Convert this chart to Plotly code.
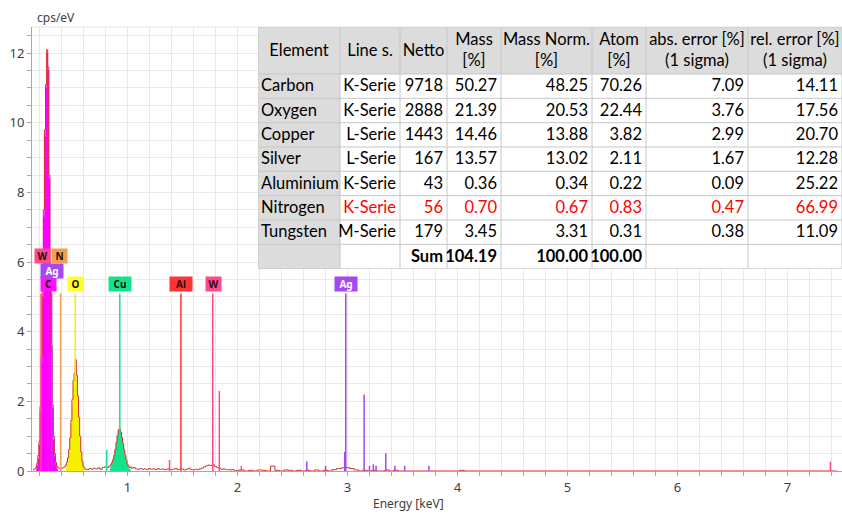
import plotly.graph_objects as go

# ---------------- EDX spectrum (cps/eV over keV) ----------------
spec_kev = [
    0.14, 0.15, 0.16, 0.17, 0.18, 0.19, 0.20, 0.21, 0.22, 0.23,
    0.24, 0.25, 0.26, 0.27, 0.28, 0.29, 0.30, 0.31, 0.32, 0.33,
    0.34, 0.35, 0.36, 0.37, 0.38, 0.39, 0.40, 0.41, 0.42, 0.43,
    0.44, 0.45, 0.46, 0.47, 0.48, 0.49, 0.50, 0.51, 0.52, 0.53,
    0.54, 0.55, 0.56, 0.57, 0.58, 0.59, 0.60, 0.61, 0.62, 0.64,
    0.66, 0.68, 0.70, 0.72, 0.74, 0.76, 0.78, 0.80, 0.82, 0.84,
    0.85, 0.86, 0.87, 0.88, 0.89, 0.90, 0.91, 0.92, 0.93, 0.94,
    0.95, 0.96, 0.97, 0.98, 0.99, 1.00, 1.01, 1.02, 1.03, 1.04,
    1.06, 1.08, 1.10, 1.12, 1.14, 1.16, 1.18, 1.20, 1.22, 1.24,
    1.26, 1.28, 1.30, 1.32, 1.34, 1.36, 1.38, 1.40, 1.42, 1.44,
    1.46, 1.48, 1.50, 1.52, 1.54, 1.56, 1.58, 1.60, 1.62, 1.64,
    1.66, 1.68, 1.70, 1.72, 1.74, 1.76, 1.78, 1.80, 1.82, 1.84,
    1.86, 1.88, 1.90, 1.92, 1.94, 1.96, 1.98, 2.00, 2.04, 2.08,
    2.12, 2.16, 2.20, 2.24, 2.28, 2.32, 2.36, 2.40, 2.44, 2.48,
    2.52, 2.56, 2.60, 2.64, 2.68, 2.72, 2.76, 2.80, 2.84, 2.88,
    2.92, 2.96, 3.00, 3.04, 3.08, 3.12, 3.16, 3.20, 3.24, 3.28,
    3.32, 3.36, 3.40, 3.44, 3.48, 3.60, 3.64, 4.00, 4.04, 4.08,
    7.45,
]
spec_cps = [
    0.03, 0.05, 0.06, 0.10, 0.22, 0.45, 0.85, 1.85, 3.30, 5.20,
    7.50, 9.80, 11.10, 12.10, 11.60, 8.50, 5.80, 3.60, 1.90, 1.00,
    0.50, 0.25, 0.14, 0.10, 0.08, 0.07, 0.09, 0.08, 0.10, 0.12,
    0.17, 0.25, 0.38, 0.62, 0.95, 1.45, 2.05, 2.60, 2.80, 3.20,
    2.75, 2.15, 1.55, 1.00, 0.55, 0.28, 0.14, 0.08, 0.05, 0.04,
    0.07, 0.05, 0.08, 0.06, 0.09, 0.05, 0.10, 0.12, 0.10, 0.14,
    0.18, 0.24, 0.33, 0.45, 0.62, 0.82, 1.02, 1.18, 1.22, 1.12,
    0.96, 0.80, 0.62, 0.46, 0.32, 0.20, 0.14, 0.10, 0.12, 0.08,
    0.10, 0.06, 0.05, 0.07, 0.05, 0.06, 0.04, 0.07, 0.05, 0.06,
    0.04, 0.07, 0.05, 0.06, 0.04, 0.05, 0.06, 0.04, 0.05, 0.07,
    0.04, 0.05, 0.06, 0.03, 0.05, 0.08, 0.04, 0.03, 0.05, 0.04,
    0.06, 0.08, 0.12, 0.15, 0.17, 0.16, 0.18, 0.13, 0.10, 0.07,
    0.05, 0.06, 0.04, 0.04, 0.03, 0.04, 0.00, 0.02, 0.03, 0.00,
    0.02, 0.00, 0.03, 0.02, 0.00, 0.14, 0.02, 0.00, 0.03, 0.02,
    0.00, 0.02, 0.00, 0.02, 0.00, 0.03, 0.00, 0.02, 0.00, 0.04,
    0.07, 0.09, 0.10, 0.07, 0.03, 0.00, 0.02, 0.00, 0.02, 0.00,
    0.00, 0.03, 0.00, 0.02, 0.00, 0.00, 0.00, 0.00, 0.02, 0.00,
    0.00,
]

# deconvolved element peaks (filled)
c_kev = [0.17, 0.18, 0.19, 0.20, 0.21, 0.22, 0.23, 0.24, 0.25, 0.26, 0.27,
         0.28, 0.29, 0.30, 0.31, 0.32, 0.33, 0.34, 0.35, 0.36, 0.37]
c_cps = [0.05, 0.15, 0.35, 0.75, 1.70, 3.10, 5.00, 7.30, 9.60, 11.00, 12.00,
         11.50, 8.40, 5.70, 3.50, 1.80, 0.90, 0.42, 0.18, 0.07, 0.02]

o_kev = [0.44, 0.45, 0.46, 0.47, 0.48, 0.49, 0.50, 0.51, 0.52, 0.53, 0.54,
         0.55, 0.56, 0.57, 0.58, 0.59, 0.60, 0.61]
o_cps = [0.10, 0.20, 0.33, 0.55, 0.88, 1.35, 1.90, 2.45, 2.75, 2.80, 2.60,
         2.05, 1.45, 0.92, 0.50, 0.25, 0.10, 0.04]

cu_kev = [0.84, 0.85, 0.86, 0.87, 0.88, 0.89, 0.90, 0.91, 0.92, 0.93, 0.94,
          0.95, 0.96, 0.97, 0.98, 0.99, 1.00, 1.01, 1.02, 1.03]
cu_cps = [0.06, 0.12, 0.20, 0.30, 0.42, 0.60, 0.80, 1.00, 1.15, 1.20, 1.10,
          0.93, 0.77, 0.58, 0.42, 0.28, 0.17, 0.10, 0.05, 0.02]

# characteristic line markers per element: energies (keV) and heights (cps/eV)
w_lines_kev = [0.214, 1.382, 1.775, 1.835, 2.035, 7.39]
w_lines_h = [5.1, 0.32, 5.1, 2.3, 0.15, 0.27]
n_lines_kev = [0.392]
n_lines_h = [5.1]
ag_lines_kev = [0.311, 2.63, 2.80, 2.975, 2.984, 3.151, 3.20, 3.235, 3.26,
                3.348, 3.43, 3.52, 3.74]
ag_lines_h = [5.1, 0.27, 0.15, 0.55, 5.1, 2.2, 0.15, 0.19, 0.15, 0.51, 0.15,
              0.15, 0.15]
c_lines_kev = [0.277]
c_lines_h = [5.1]
o_lines_kev = [0.525]
o_lines_h = [5.1]
cu_lines_kev = [0.811, 0.930]
cu_lines_h = [0.6, 5.1]
al_lines_kev = [1.486]
al_lines_h = [5.1]

# element tags above the marker lines (lower rows first, stacked tags last)
tag_text = ["C", "O", "Cu", "Al", "W", "Ag", "Ag", "W", "N"]
tag_kev = [0.282, 0.530, 0.930, 1.486, 1.785, 2.985, 0.314, 0.226, 0.386]
tag_level = [5.36, 5.36, 5.36, 5.36, 5.36, 5.36, 5.75, 6.16, 6.16]

# ---------------- quantification table ----------------
element = ["Carbon", "Oxygen", "Copper", "Silver", "Aluminium", "Nitrogen",
           "Tungsten"]
line_series = ["K-Serie", "K-Serie", "L-Serie", "L-Serie", "K-Serie",
               "K-Serie", "M-Serie"]
netto = [9718, 2888, 1443, 167, 43, 56, 179]
mass = [50.27, 21.39, 14.46, 13.57, 0.36, 0.70, 3.45]
mass_norm = [48.25, 20.53, 13.88, 13.02, 0.34, 0.67, 3.31]
atom = [70.26, 22.44, 3.82, 2.11, 0.22, 0.83, 0.31]
abs_error = [7.09, 3.76, 2.99, 1.67, 0.09, 0.47, 0.38]
rel_error = [14.11, 17.56, 20.70, 12.28, 25.22, 66.99, 11.09]
mass_sum = 104.19
mass_norm_sum = 100.00
atom_sum = 100.00
headers = ["Element", "Line s.", "Netto", "Mass<br>[%]", "Mass Norm.<br>[%]",
           "Atom<br>[%]", "abs. error [%]<br>(1 sigma)",
           "rel. error [%]<br>(1 sigma)"]
flagged_row = "Nitrogen"

# ---------------- styling ----------------
PINK = "#ff4a8d"
ORANGE = "#f3a04e"
PURPLE = "#a448f2"
MAGENTA = "#ff10ff"
YELLOW = "#f4f000"
GREEN = "#12e48c"
RED = "#ff3434"
OUTLINE = "#d8302a"
GRID = "#e9e9e9"
AXIS = "#a8a8a8"
TICKFONT = dict(family="Noto Sans, Open Sans, sans-serif", size=13,
                color="#404040")
TABLEFONT = "Lato, sans-serif"

tag_bg = {"W": PINK, "N": ORANGE, "Ag": PURPLE, "C": MAGENTA, "O": "#ffff30",
          "Cu": GREEN, "Al": RED}
tag_fg = {"Ag": "#ffffff"}

fig = go.Figure()

# filled element peaks
for kev, cps, col in [(c_kev, c_cps, "#ff00ff"), (o_kev, o_cps, YELLOW),
                      (cu_kev, cu_cps, GREEN)]:
    fig.add_trace(go.Scatter(x=kev, y=cps, mode="lines", line_shape="hvh",
                             fill="tozeroy", fillcolor=col,
                             line=dict(color=col, width=0.5),
                             hoverinfo="skip", showlegend=False))

# measured spectrum outline
fig.add_trace(go.Scatter(x=spec_kev, y=spec_cps, mode="lines",
                         line_shape="hvh",
                         line=dict(color=OUTLINE, width=1),
                         hoverinfo="skip", showlegend=False))


def stick_trace(kev, heights, color):
    xs, ys = [], []
    for e, h in zip(kev, heights):
        xs += [e, e, None]
        ys += [0, h, None]
    return go.Scatter(x=xs, y=ys, mode="lines",
                      line=dict(color=color, width=1.5),
                      hoverinfo="skip", showlegend=False)


for kev, h, col in [(w_lines_kev, w_lines_h, PINK),
                    (n_lines_kev, n_lines_h, ORANGE),
                    (ag_lines_kev, ag_lines_h, PURPLE),
                    (c_lines_kev, c_lines_h, MAGENTA),
                    (o_lines_kev, o_lines_h, YELLOW),
                    (cu_lines_kev, cu_lines_h, GREEN),
                    (al_lines_kev, al_lines_h, RED)]:
    fig.add_trace(stick_trace(kev, h, col))

# element tags (box height follows the text so descenders are not cut)
for t, e, lv in zip(tag_text, tag_kev, tag_level):
    fig.add_annotation(
        x=e, y=lv, xref="x", yref="y", text=t, showarrow=False,
        bgcolor=tag_bg[t], borderpad=0, width=8 + 7 * len(t),
        font=dict(family="Noto Sans, sans-serif", size=10,
                  color=tag_fg.get(t, "#2a0a10"), weight="bold"))

# ---------------- table drawn on its own axes ----------------
col_widths = [82, 60, 47, 54, 91, 54, 102, 94]
header_h = 47
row_h = 24.33
n_rows = len(element) + 1  # data rows + sum row

x_edges = [0]
for w in col_widths:
    x_edges.append(x_edges[-1] + w)
y_edges = [0, header_h]
for _ in range(n_rows):
    y_edges.append(y_edges[-1] + row_h)
table_w = x_edges[-1]
table_h = y_edges[-1]

# cell shading: header row and first column grey
shade = [[1] * len(col_widths)]
for _ in range(n_rows):
    shade.append([1] + [0] * (len(col_widths) - 1))
fig.add_trace(go.Heatmap(x=x_edges, y=y_edges, z=shade, zmin=0, zmax=1,
                         colorscale=[[0, "#ffffff"], [1, "#dcdcdc"]],
                         showscale=False, hoverinfo="skip",
                         xaxis="x2", yaxis="y2"))

# cell borders
bx, by = [], []
for xe in x_edges:
    bx += [xe, xe, None]
    by += [0, table_h, None]
for ye in y_edges:
    bx += [0, table_w, None]
    by += [ye, ye, None]
fig.add_trace(go.Scatter(x=bx, y=by, mode="lines",
                         line=dict(color="#c6c6c6", width=1),
                         hoverinfo="skip", showlegend=False,
                         xaxis="x2", yaxis="y2"))

# cell texts
tx, ty, tt, tp, tc = [], [], [], [], []
for j, h in enumerate(headers):
    tx.append((x_edges[j] + x_edges[j + 1]) / 2)
    ty.append(header_h / 2 + 1)
    tt.append(h)
    tp.append("middle center")
    tc.append("#000000")

rows = []
for i in range(len(element)):
    rows.append([element[i], line_series[i], str(netto[i]),
                 f"{mass[i]:.2f}", f"{mass_norm[i]:.2f}", f"{atom[i]:.2f}",
                 f"{abs_error[i]:.2f}", f"{rel_error[i]:.2f}"])
rows.append(["", "", "<b>Sum</b>", f"<b>{mass_sum:.2f}</b>",
             f"<b>{mass_norm_sum:.2f}</b>", f"<b>{atom_sum:.2f}</b>", "", ""])

for i, r in enumerate(rows):
    yc = (y_edges[i + 1] + y_edges[i + 2]) / 2 + 1
    flagged = i < len(element) and element[i] == flagged_row
    for j, v in enumerate(r):
        if v == "":
            continue
        if j == 0:
            tx.append(x_edges[0] + 3)
            tp.append("middle right")
        else:
            tx.append(x_edges[j + 1] - 4)
            tp.append("middle left")
        ty.append(yc)
        tt.append(v)
        tc.append("#ff0000" if (flagged and j > 0) else "#000000")

fig.add_trace(go.Scatter(x=tx, y=ty, text=tt, mode="text", textposition=tp,
                         textfont=dict(family=TABLEFONT, size=16.5, color=tc),
                         hoverinfo="skip", showlegend=False, cliponaxis=False,
                         xaxis="x2", yaxis="y2"))

# ---------------- layout ----------------
plot_h = 514 - 27 - 43
plot_w = 842 - 32
fig.update_layout(
    width=842, height=514,
    margin=dict(l=32, r=0, t=27, b=43, pad=0),
    paper_bgcolor="#ffffff", plot_bgcolor="#ffffff",
    showlegend=False,
    xaxis=dict(range=[0.132, 7.495], dtick=1, tick0=0, showgrid=True,
               gridcolor=GRID, gridwidth=1, zeroline=False,
               showline=True, linecolor=AXIS, linewidth=1,
               ticks="outside", ticklen=4, tickcolor=AXIS,
               tickfont=TICKFONT,
               minor=dict(dtick=0.2, tick0=0, showgrid=True, gridcolor=GRID,
                          ticks="outside", ticklen=4, tickcolor=AXIS),
               fixedrange=True),
    yaxis=dict(range=[0, 12.75], dtick=2, tick0=0, showgrid=True,
               gridcolor=GRID, gridwidth=1, zeroline=False,
               showline=True, linecolor=AXIS, linewidth=1,
               ticks="outside", ticklen=4, tickcolor=AXIS,
               tickfont=TICKFONT,
               minor=dict(dtick=0.5, tick0=0, showgrid=True, gridcolor=GRID,
                          ticks="outside", ticklen=4, tickcolor=AXIS),
               fixedrange=True),
    xaxis2=dict(domain=[(258 - 32) / plot_w, 1], range=[0, table_w],
                anchor="y2", visible=False, fixedrange=True),
    yaxis2=dict(domain=[1 - table_h / plot_h, 1], range=[table_h, 0],
                anchor="x2", visible=False, fixedrange=True),
)

# frame top edge
fig.add_shape(type="line", xref="paper", yref="paper", x0=0, x1=1, y0=1, y1=1,
              line=dict(color=GRID, width=1), layer="below")

fig.add_annotation(text="cps/eV", xref="paper", yref="paper", x=0.004, y=1,
                   xanchor="left", yanchor="bottom", yshift=-1,
                   showarrow=False,
                   font=dict(family="Noto Sans, sans-serif", size=12,
                             color="#404040"))
fig.add_annotation(text="Energy [keV]", xref="paper", yref="paper",
                   x=(408 - 32) / plot_w, y=0, yshift=-32, xanchor="center",
                   yanchor="middle", showarrow=False,
                   font=dict(family="Noto Sans, sans-serif", size=12,
                             color="#404040"))

fig.write_html("out.html")
